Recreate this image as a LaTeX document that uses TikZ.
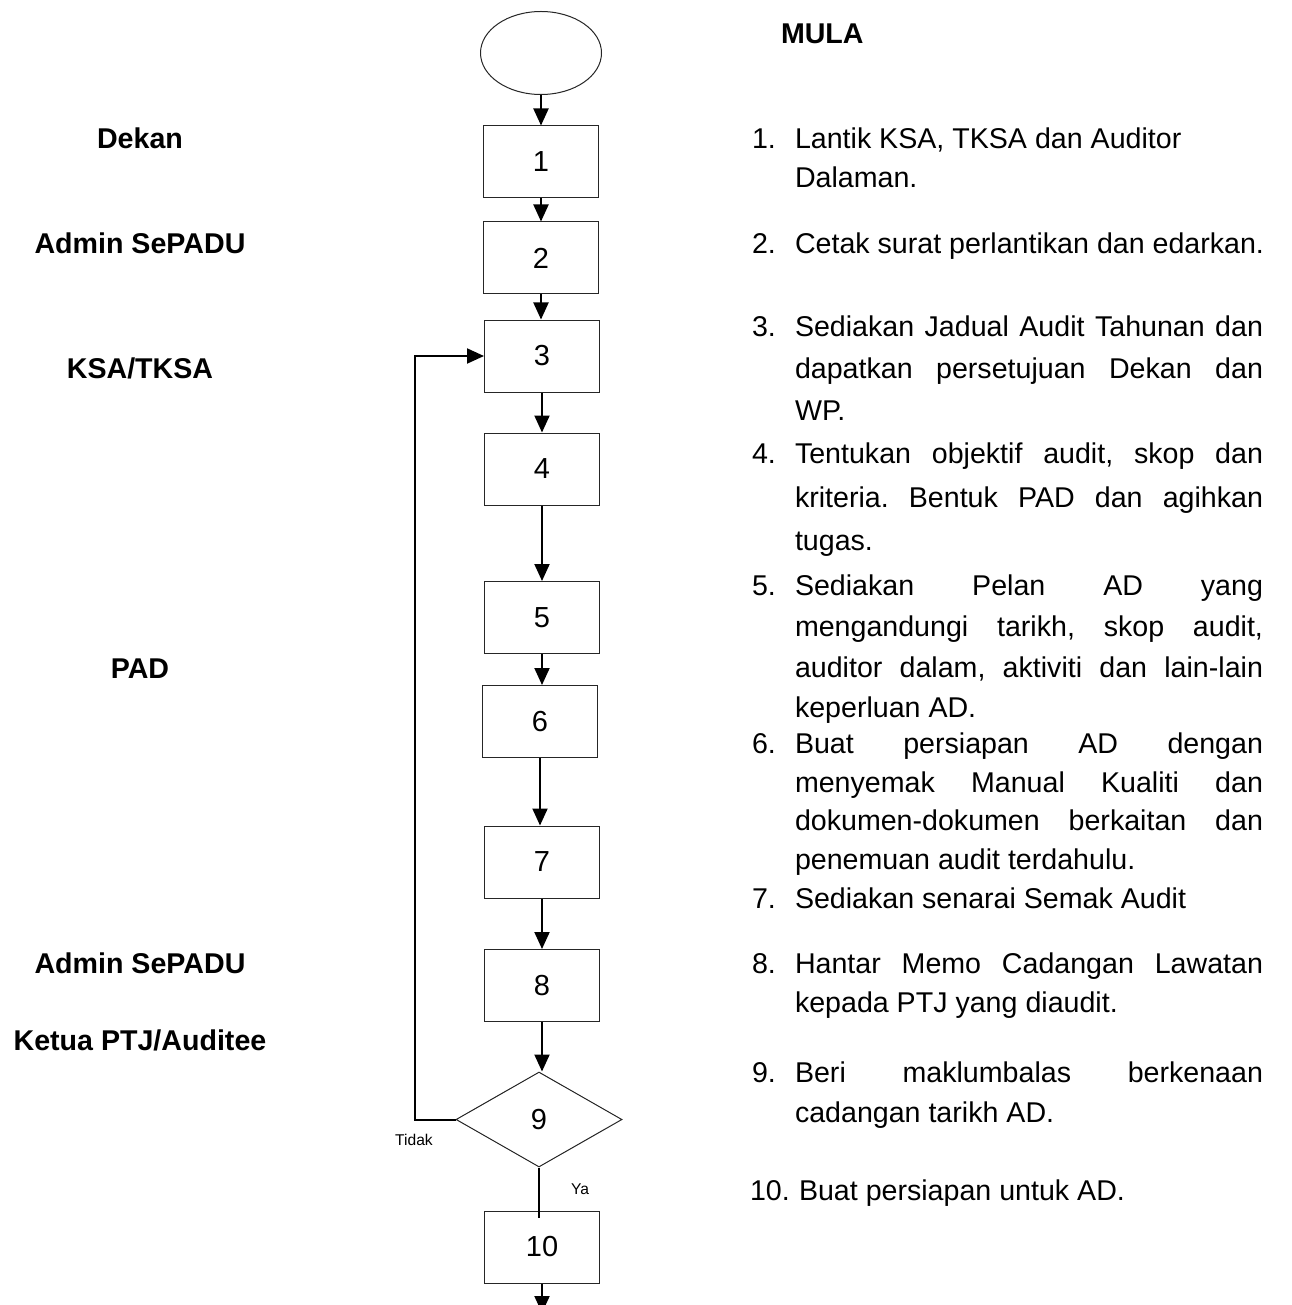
\documentclass[tikz,border=0pt]{standalone}
\usepackage{fontspec}
\setmainfont{Liberation Sans}
\usetikzlibrary{shapes.geometric,arrows.meta}
\newcommand\jline[1]{\makebox[468pt][s]{#1}}
\frenchspacing
\begin{document}
\begin{tikzpicture}[x=1pt,y=-1pt,
  body/.style={font=\fontsize{28.6pt}{34pt}\selectfont, anchor=base west, inner sep=0pt, outer sep=0pt},
  role/.style={font=\fontsize{28.6pt}{34pt}\selectfont\bfseries, anchor=base, inner sep=0pt},
  proc/.style={draw=black!85, line width=1pt, minimum width=115pt, minimum height=72pt, inner sep=0pt, font=\fontsize{29pt}{34pt}\selectfont},
  term/.style={ellipse, draw=black!85, line width=1pt, minimum width=121pt, minimum height=83pt, inner sep=0pt},
  decision/.style={diamond, draw=black!85, line width=1pt, minimum width=166pt, minimum height=95pt, inner sep=0pt, font=\fontsize{29pt}{34pt}\selectfont},
  flow/.style={line width=2pt, -{Triangle[width=15pt,length=17pt]}},
  plain/.style={line width=2pt},
  small/.style={font=\fontsize{15.6pt}{18pt}\selectfont, anchor=base, inner sep=0pt}
]
\useasboundingbox (0,0) rectangle (1291,1305);
\clip (0,0) rectangle (1291,1305);

% flowchart shapes
\node[term] (start) at (541,53) {};
\node[proc] (b1) at (541,162) {1};
\node[proc] (b2) at (541,258) {2};
\node[proc] (b3) at (542,356) {3};
\node[proc] (b4) at (542,469) {4};
\node[proc] (b5) at (542,617.5) {5};
\node[proc] (b6) at (540,721.5) {6};
\node[proc] (b7) at (542,862) {7};
\node[proc] (b8) at (542,985.5) {8};
\node[decision] (d9) at (539,1119.5) {9};
\node[proc] (b10) at (542,1247) {10};

\coordinate (lp) at (415,0);
\coordinate (yaend) at (541,1218);
\coordinate (endpt) at (542,1313);

% connectors
\draw[flow] (start) -- (start |- b1.north);
\draw[flow] (b1) -- (b1 |- b2.north);
\draw[flow] (b2) -- (b2 |- b3.north);
\draw[flow] (b3) -- (b3 |- b4.north);
\draw[flow] (b4) -- (b4 |- b5.north);
\draw[flow] (b5) -- (b5 |- b6.north);
\draw[flow] (b6) -- (b6 |- b7.north);
\draw[flow] (b7) -- (b7 |- b8.north);
\draw[flow] (b8) -- (b8 |- d9.north);
\draw[plain] (d9.south) -- (d9.south |- yaend);
\draw[flow] (d9.west) -- (d9.west -| lp) |- (b3.west);
\draw[flow] (b10) -- (b10 |- endpt);

\node[small] (tidak) at (414,1145.6) {Tidak};
\node[small] (ya) at (580,1194.6) {Ya};

% roles
\node[role] (r1) at (140,148.2) {Dekan};
\node[role] (r2) at (140,253.2) {Admin SePADU};
\node[role] (r3) at (140,378.2) {KSA/TKSA};
\node[role] (r4) at (140,678.2) {PAD};
\node[role] (r5) at (140,973.2) {Admin SePADU};
\node[role] (r6) at (140,1050.2) {Ketua PTJ/Auditee};

% heading
\node[body,font=\fontsize{28.6pt}{34pt}\selectfont\bfseries] (mula) at (781,43.2) {MULA};

% numbers
\node[body] (n1) at (752,148.2) {1.};
\node[body] (n2) at (752,253.2) {2.};
\node[body] (n3) at (752,336.2) {3.};
\node[body] (n4) at (752,463.2) {4.};
\node[body] (n5) at (752,595.2) {5.};
\node[body] (n6) at (752,753.2) {6.};
\node[body] (n7) at (752,908.2) {7.};
\node[body] (n8) at (752,973.2) {8.};
\node[body] (n9) at (752,1082.2) {9.};
\node[body] (n10) at (750,1200.2) {10.};

% descriptions
\node[body] (t1a) at (795,148.2) {Lantik KSA, TKSA dan Auditor};
\node[body] (t1b) at (795,187.2) {Dalaman.};
\node[body] (t2) at (795,253.2) {Cetak surat perlantikan dan edarkan.};
\node[body] (t3a) at (795,336.2) {\jline{Sediakan Jadual Audit Tahunan dan}};
\node[body] (t3b) at (795,378.2) {\jline{dapatkan persetujuan Dekan dan}};
\node[body] (t3c) at (795,420.2) {WP.};
\node[body] (t4a) at (795,463.2) {\jline{Tentukan objektif audit, skop dan}};
\node[body] (t4b) at (795,507.2) {\jline{kriteria. Bentuk PAD dan agihkan}};
\node[body] (t4c) at (795,550.2) {tugas.};
\node[body] (t5a) at (795,595.2) {\jline{Sediakan Pelan AD yang}};
\node[body] (t5b) at (795,636.2) {\jline{mengandungi tarikh, skop audit,}};
\node[body] (t5c) at (795,677.2) {\jline{auditor dalam, aktiviti dan lain-lain}};
\node[body] (t5d) at (795,717.2) {keperluan AD.};
\node[body] (t6a) at (795,753.2) {\jline{Buat persiapan AD dengan}};
\node[body] (t6b) at (795,792.2) {\jline{menyemak Manual Kualiti dan}};
\node[body] (t6c) at (795,830.2) {\jline{dokumen-dokumen berkaitan dan}};
\node[body] (t6d) at (795,869.2) {penemuan audit terdahulu.};
\node[body] (t7) at (795,908.2) {Sediakan senarai Semak Audit};
\node[body] (t8a) at (795,973.2) {\jline{Hantar Memo Cadangan Lawatan}};
\node[body] (t8b) at (795,1012.2) {kepada PTJ yang diaudit.};
\node[body] (t9a) at (795,1082.2) {\jline{Beri maklumbalas berkenaan}};
\node[body] (t9b) at (795,1122.2) {cadangan tarikh AD.};
\node[body] (t10) at (799,1200.2) {Buat persiapan untuk AD.};
\end{tikzpicture}
\end{document}
